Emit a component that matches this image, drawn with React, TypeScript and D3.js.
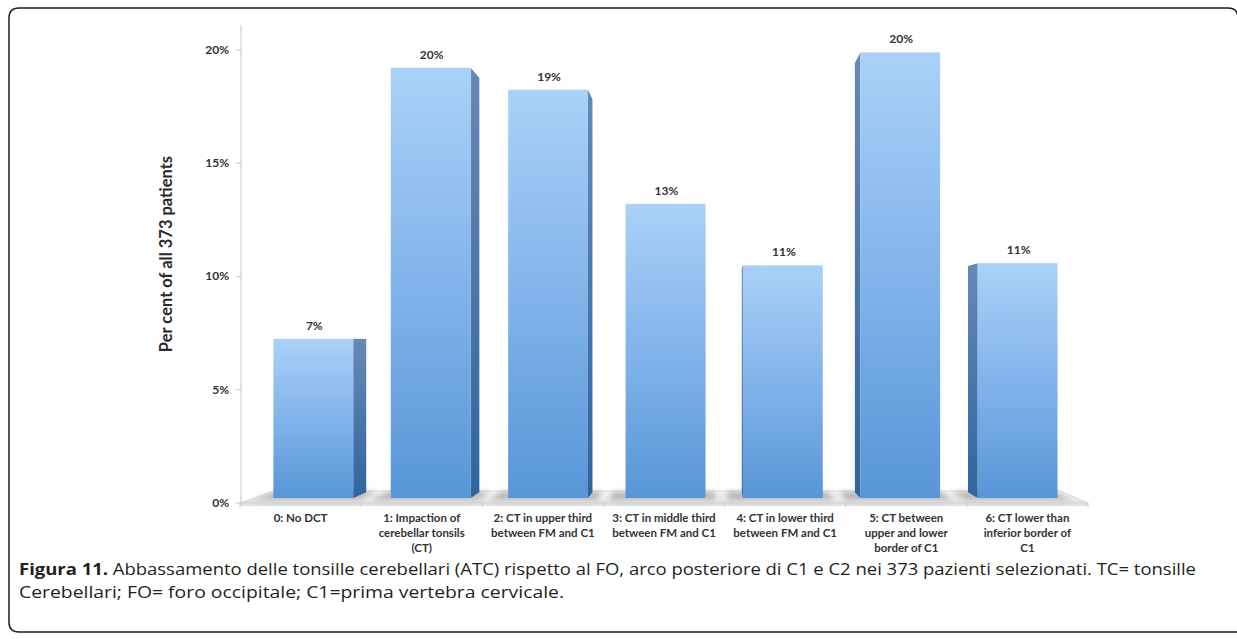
import React from "react";
import * as d3 from "d3";

// Distribution of cerebellar tonsil descent grades (per cent of 373 patients)
const gradeLabels: string[][] = [
  ["0: No DCT"],
  ["1: Impaction of", "cerebellar tonsils", "(CT)"],
  ["2: CT in upper third", "between FM and C1"],
  ["3: CT in middle third", "between FM and C1"],
  ["4: CT in lower third", "between FM and C1"],
  ["5: CT between", "upper and lower", "border of C1"],
  ["6: CT lower than", "inferior border of", "C1"],
];
const percentValues: number[] = [7.25, 19.6, 18.6, 13.4, 10.6, 20.3, 10.7];
const yTicks: number[] = [0, 5, 10, 15, 20];

const yTitle = "Per cent of all 373 patients";
const captionBold = "Figura 11.";
const captionLine1 =
  " Abbassamento delle tonsille cerebellari (ATC) rispetto al FO, arco posteriore di C1 e C2 nei 373 pazienti selezionati. TC= tonsille";
const captionLine2 = "Cerebellari; FO= foro occipitale; C1=prima vertebra cervicale.";

const W = 1237;
const H = 639;

export default function App() {
  const idx = d3.range(percentValues.length);
  const x = d3
    .scaleBand<number>()
    .domain(idx)
    .range([240, 1088])
    .paddingInner(0.32)
    .paddingOuter(0.16);
  const y = d3.scaleLinear().domain([0, 21.1]).range([503, 25]);
  const pct = d3.format(".0f");

  // simple one-point perspective: depth z pulls points toward the vanishing point
  const VP: [number, number] = [711, 342];
  const D = 1000;
  const zBarFront = 32;
  const zBarBack = 71;
  const zFloorBack = 81;
  const proj = (px: number, py: number, pz: number): [number, number] => {
    const r = D / (D + pz);
    return [VP[0] + (px - VP[0]) * r, VP[1] + (py - VP[1]) * r];
  };
  const poly = (pts: [number, number][]) => pts.map((p) => p.join(",")).join(" ");

  const x0 = x.range()[0];
  const x1 = x.range()[1];
  const y0 = y(0);

  const floorTop = poly([
    proj(x0, y0, 0),
    proj(x1, y0, 0),
    proj(x1, y0, zFloorBack),
    proj(x0, y0, zFloorBack),
  ]);
  const floorFront = poly([
    proj(x0, y0, 0),
    proj(x1, y0, 0),
    proj(x1, y0 + 2.5, 0),
    proj(x0, y0 + 2.5, 0),
  ]);

  const fontChart = "Lato, 'Open Sans', sans-serif";

  return (
    <svg
      width={W}
      height={H}
      viewBox={`0 0 ${W} ${H}`}
      style={{ position: "absolute", left: 0, top: 0, background: "#fff" }}
    >
      <defs>
        <linearGradient id="barFront" x1="0" y1="0" x2="0" y2="1">
          <stop offset="0%" stopColor="#aad1f8" />
          <stop offset="55%" stopColor="#7db1e9" />
          <stop offset="100%" stopColor="#5896d7" />
        </linearGradient>
        <linearGradient id="barSide" x1="0" y1="0" x2="0" y2="1">
          <stop offset="0%" stopColor="#6789b6" />
          <stop offset="100%" stopColor="#2f659e" />
        </linearGradient>
        <linearGradient id="floorFill" x1="0" y1="0" x2="0" y2="1">
          <stop offset="0%" stopColor="#f4f4f4" />
          <stop offset="100%" stopColor="#e2e2e2" />
        </linearGradient>
        <filter id="soft" x="-20%" y="-100%" width="140%" height="300%">
          <feGaussianBlur stdDeviation="2.5" />
        </filter>
      </defs>

      {/* frame */}
      <path
        d="M1238,632 L19,632 Q9,632 9,622 L9,18 Q9,8 19,8 L1228,8 Q1238,8 1238,18"
        fill="none"
        stroke="#1e1e1e"
        strokeWidth={1.5}
      />

      {/* floor */}
      <polygon points={floorTop} fill="url(#floorFill)" stroke="#cfcfcf" strokeWidth={0.8} />
      <polygon points={floorFront} fill="#e2e2e2" stroke="#d0d0d0" strokeWidth={0.6} />

      {/* bar shadows on the floor */}
      <g filter="url(#soft)" opacity={0.6}>
        {idx.map((i) => {
          const bx0 = x(i)! - 16;
          const bx1 = x(i)! + x.bandwidth() + 10;
          return (
            <polygon
              key={i}
              points={poly([
                proj(bx0, y0, zBarFront - 12),
                proj(bx1, y0, zBarFront - 12),
                proj(bx1, y0, zBarBack + 6),
                proj(bx0, y0, zBarBack + 6),
              ])}
              fill="#959595"
            />
          );
        })}
      </g>

      {/* category ticks on the floor edge */}
      {d3.range(percentValues.length + 1).map((k) => {
        const tx = x0 + k * x.step();
        return (
          <line key={k} x1={tx} x2={tx} y1={y0} y2={y0 + 4} stroke="#c4c4c4" strokeWidth={0.8} />
        );
      })}

      {/* y axis */}
      <line x1={x0 + 1} x2={x0 + 1} y1={y.range()[1]} y2={y0} stroke="#c8c8c8" strokeWidth={1} />
      {yTicks.map((t) => (
        <g key={t}>
          <line x1={x0 - 4} x2={x0 + 1} y1={y(t)} y2={y(t)} stroke="#c8c8c8" strokeWidth={1} />
          <text
            x={x0 - 11}
            y={y(t) + 4}
            textAnchor="end"
            fontFamily={fontChart}
            fontWeight={700}
            fontSize={12}
            fill="#333"
          >
            {pct(t)}%
          </text>
        </g>
      ))}
      <text
        transform={`translate(172,254) rotate(-90)`}
        textAnchor="middle"
        fontFamily={fontChart}
        fontWeight={700}
        fontSize={16.5}
        fill="#2a2a2a"
      >
        {yTitle}
      </text>

      {/* bars */}
      {idx.map((i) => {
        const v = percentValues[i];
        const bl = x(i)!;
        const br = bl + x.bandwidth();
        const top = y(v);
        const cx = bl + x.bandwidth() / 2;
        const sideX = cx < VP[0] ? br : bl;
        const side = poly([
          proj(sideX, top, zBarFront),
          proj(sideX, top, zBarBack),
          proj(sideX, y0, zBarBack),
          proj(sideX, y0, zBarFront),
        ]);
        const fTL = proj(bl, top, zBarFront);
        const fBR = proj(br, y0, zBarFront);
        const labelPos = proj(cx, top, zBarFront);
        return (
          <g key={i}>
            <polygon points={side} fill="url(#barSide)" />
            <rect
              x={fTL[0]}
              y={fTL[1]}
              width={fBR[0] - fTL[0]}
              height={fBR[1] - fTL[1]}
              fill="url(#barFront)"
            />
            <text
              x={labelPos[0] + 1}
              y={labelPos[1] - 9}
              textAnchor="middle"
              fontFamily={fontChart}
              fontWeight={700}
              fontSize={12}
              fill="#333"
            >
              {pct(v)}%
            </text>
          </g>
        );
      })}

      {/* category labels */}
      {idx.map((i) => (
        <text
          key={i}
          x={x(i)! + x.bandwidth() / 2}
          y={522}
          textAnchor="middle"
          fontFamily={fontChart}
          fontWeight={700}
          fontSize={11.5}
          fill="#333"
        >
          {gradeLabels[i].map((ln, j) => (
            <tspan key={j} x={x(i)! + x.bandwidth() / 2} dy={j === 0 ? 0 : 15}>
              {ln}
            </tspan>
          ))}
        </text>
      ))}

      {/* caption */}
      <text
        x={19}
        y={575}
        fontFamily="'Open Sans', sans-serif"
        fontSize={16}
        fill="#231f20"
        textLength={1177}
        lengthAdjust="spacingAndGlyphs"
      >
        <tspan fontWeight={700}>{captionBold}</tspan>
        {captionLine1}
      </text>
      <text
        x={19}
        y={598}
        fontFamily="'Open Sans', sans-serif"
        fontSize={16}
        fill="#231f20"
        textLength={545}
        lengthAdjust="spacingAndGlyphs"
      >
        {captionLine2}
      </text>
    </svg>
  );
}
